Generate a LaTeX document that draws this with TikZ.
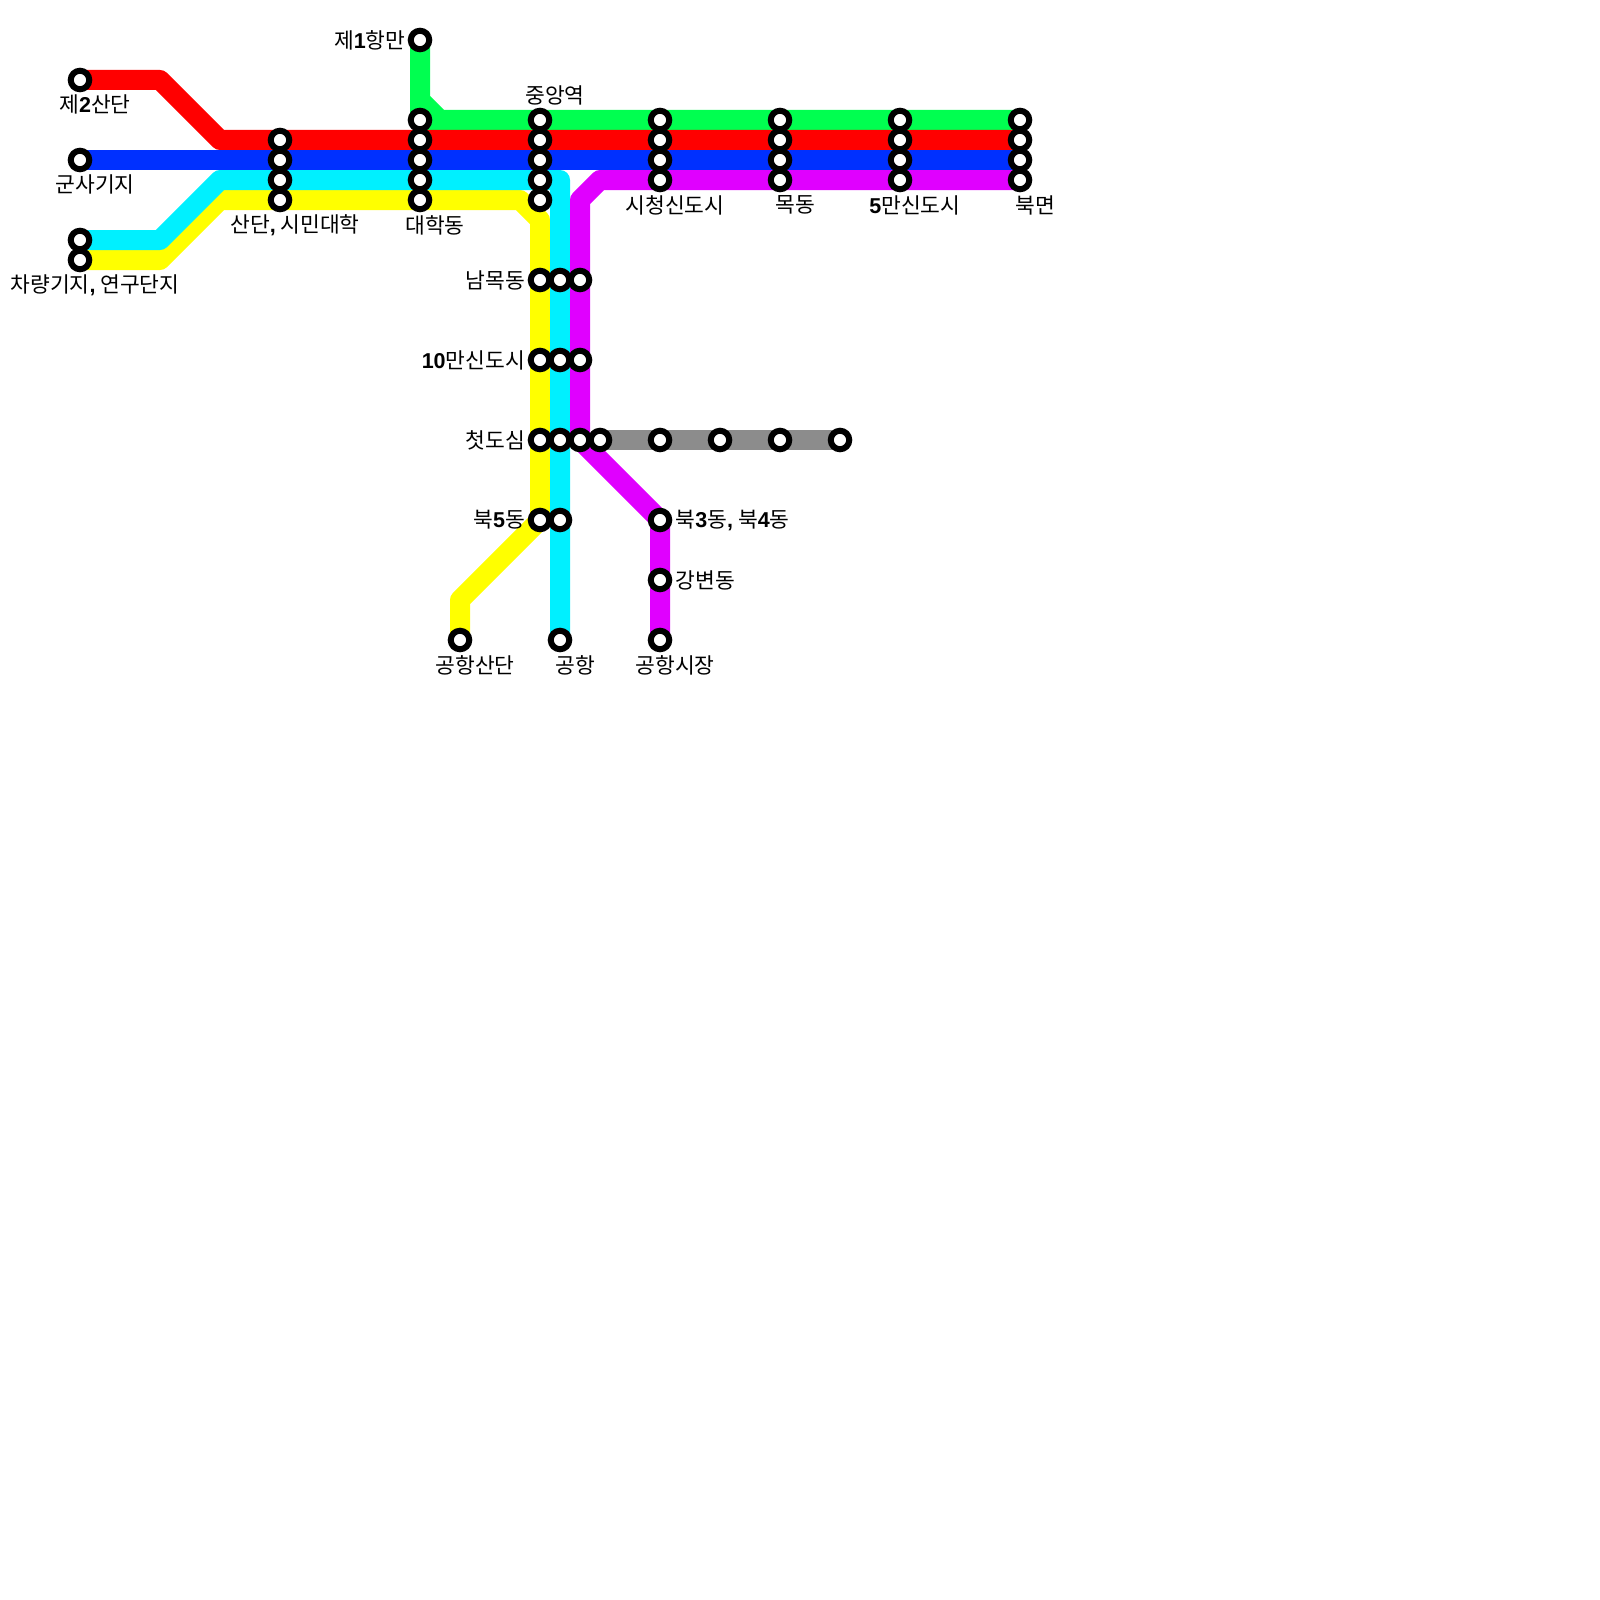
\documentclass[tikz,border=0pt]{standalone}
\usepackage{fontspec}
\setmainfont{Noto Sans CJK KR}
\newfontfamily\numfont{Liberation Sans}
\newcommand{\bnum}[1]{{\numfont\bfseries #1}}
\usetikzlibrary{backgrounds}
\definecolor{lnred}{HTML}{FF0000}
\definecolor{lnblue}{HTML}{0030FF}
\definecolor{lngreen}{HTML}{00FF50}
\definecolor{lncyan}{HTML}{00F0FF}
\definecolor{lnyellow}{HTML}{FFFF00}
\definecolor{lnmagenta}{HTML}{E000FF}
\definecolor{lngray}{HTML}{8C8C8C}
\tikzset{
	stn/.style={circle,draw=black,fill=white,line width=6pt,minimum size=18.5pt,inner sep=0pt},
	lne/.style={line width=20pt,line join=round},
	txt/.style={inner sep=0pt,font=\fontsize{21.5}{21.5}\selectfont},
}
\begin{document}
\begin{tikzpicture}[x=1pt,y=-1pt]
	\useasboundingbox (0,0) rectangle (1600,1600);
	\foreach \y in {80,160,240,260} \node[stn] (s80-\y) at (80,\y) {};
	\foreach \y in {140,160,180,200} \node[stn] (s280-\y) at (280,\y) {};
	\foreach \y in {40,120,140,160,180,200} \node[stn] (s420-\y) at (420,\y) {};
	\foreach \y in {120,140,160,180,200,280,360,440,520} \node[stn] (s540-\y) at (540,\y) {};
	\foreach \y in {280,360,440,520,640} \node[stn] (s560-\y) at (560,\y) {};
	\foreach \y in {280,360,440} \node[stn] (s580-\y) at (580,\y) {};
	\node[stn] (s600-440) at (600,440) {};
	\foreach \x in {660,780,900,1020} \foreach \y in {120,140,160,180} \node[stn] (s\x-\y) at (\x,\y) {};
	\foreach \x in {660,720,780,840} \node[stn] (s\x-440) at (\x,440) {};
	\foreach \y in {520,580,640} \node[stn] (s660-\y) at (660,\y) {};
	\node[stn] (s460-640) at (460,640) {};
	\coordinate (r1) at (160,80);
	\coordinate (r2) at (220,140);
	\coordinate (g1) at (420,100);
	\coordinate (g2) at (440,120);
	\coordinate (c1) at (160,240);
	\coordinate (c2) at (220,180);
	\coordinate (c3) at (560,180);
	\coordinate (y1) at (160,260);
	\coordinate (y2) at (220,200);
	\coordinate (y3) at (520,200);
	\coordinate (y4) at (540,220);
	\coordinate (y5) at (460,600);
	\coordinate (m1) at (600,180);
	\coordinate (m2) at (580,200);
	\begin{scope}[on background layer]
		\draw[lne,lnyellow] (s80-260.center) -- (y1) -- (y2) -- (y3) -- (y4) -- (s540-520.center) -- (y5) -- (s460-640.center);
		\draw[lne,lncyan] (s80-240.center) -- (c1) -- (c2) -- (c3) -- (s560-640.center);
		\draw[lne,lngreen] (s420-40.center) -- (g1) -- (g2) -- (s1020-120.center);
		\draw[lne,lngreen] (s420-40.center) -- (s420-120.center) -- (s1020-120.center);
		\draw[lne,lnred] (s80-80.center) -- (r1) -- (r2) -- (s1020-140.center);
		\draw[lne,lnblue] (s80-160.center) -- (s1020-160.center);
		\draw[lne,lnmagenta] (s1020-180.center) -- (m1) -- (m2) -- (s580-440.center) -- (s660-520.center) -- (s660-640.center);
		\draw[lne,lngray] (s600-440.center) -- (s840-440.center);
	\end{scope}
	\node[txt] (t1) at (95,104.5) {제\bnum{2}산단};
	\node[txt] (t2) at (95,184.5) {군사기지};
	\node[txt] (t3) at (95,285) {차량기지\bnum{,} 연구단지};
	\node[txt] (t4) at (295,225) {산단\bnum{,} 시민대학};
	\node[txt] (t5) at (435,225) {대학동};
	\node[txt] (t6) at (555,95) {중앙역};
	\node[txt,anchor=east] (t7) at (405.5,40) {제\bnum{1}항만};
	\node[txt] (t8) at (675,205) {시청신도시};
	\node[txt] (t9) at (795,205) {목동};
	\node[txt] (t10) at (915,205) {\bnum{5}만신도시};
	\node[txt] (t11) at (1035,205) {북면};
	\node[txt,anchor=east] (t12) at (525,280) {남목동};
	\node[txt,anchor=east] (t13) at (525,360) {\bnum{10}만신도시};
	\node[txt,anchor=east] (t14) at (525,440) {첫도심};
	\node[txt,anchor=east] (t15) at (525,520) {북\bnum{5}동};
	\node[txt,anchor=west] (t16) at (675.5,520) {북\bnum{3}동\bnum{,} 북\bnum{4}동};
	\node[txt,anchor=west] (t17) at (675.5,580) {강변동};
	\node[txt] (t18) at (475,665) {공항산단};
	\node[txt] (t19) at (575,665) {공항};
	\node[txt] (t20) at (675,665) {공항시장};
\end{tikzpicture}
\end{document}
